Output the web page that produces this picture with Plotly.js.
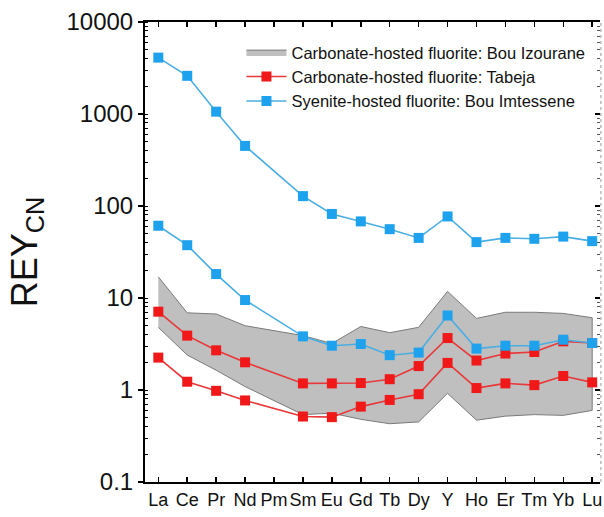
<!DOCTYPE html>
<html>
<head>
<meta charset="utf-8">
<script src="https://cdn.plot.ly/plotly-3.0.1.min.js"></script>
<style>html,body{margin:0;padding:0;background:#fff;}#chart{width:604px;height:517px;}</style>
</head>
<body>
<div id="chart"></div>
<script>
// Element order on the x axis (Pm has no data)
const elements = ['La','Ce','Pr','Nd','Pm','Sm','Eu','Gd','Tb','Dy','Y','Ho','Er','Tm','Yb','Lu'];
const measured = ['La','Ce','Pr','Nd','Sm','Eu','Gd','Tb','Dy','Y','Ho','Er','Tm','Yb','Lu'];

// Carbonate-hosted fluorite: Bou Izourane (range envelope)
const bandHigh = [17, 6.9, 6.7, 5.0, 3.9, 3.2, 4.9, 4.2, 4.8, 11.8, 6.0, 7.0, 7.0, 6.8, 6.1];
const bandLow  = [4.8, 2.4, 1.64, 1.09, 0.54, 0.56, 0.48, 0.43, 0.45, 0.92, 0.47, 0.52, 0.54, 0.53, 0.60];

// Carbonate-hosted fluorite: Tabeja
const tabejaHigh = [7.1, 3.9, 2.7, 2.0, 1.18, 1.18, 1.19, 1.31, 1.82, 3.67, 2.09, 2.49, 2.59, 3.38, 3.24];
const tabejaLow  = [2.25, 1.23, 0.98, 0.77, 0.515, 0.507, 0.66, 0.78, 0.90, 1.97, 1.05, 1.18, 1.13, 1.42, 1.21];

// Syenite-hosted fluorite: Bou Imtessene
const imtHigh = [4100, 2600, 1060, 450, 128, 82, 68, 56, 45, 77, 40.5, 45, 44, 46.5, 41.5];
const imtLow  = [61, 37.5, 18.2, 9.5, 3.83, 3.03, 3.16, 2.39, 2.55, 6.45, 2.82, 3.03, 3.03, 3.52, 3.24];

// Y tick labels
const yTickVals = [0.1, 1, 10, 100, 1000, 10000];
const yTickText = ['0.1', '1', '10', '100', '1000', '10000'];

const legendNames = [
  'Carbonate-hosted fluorite: Bou Izourane',
  'Carbonate-hosted fluorite: Tabeja',
  'Syenite-hosted fluorite: Bou Imtessene'
];

const red = '#f01818', redLine = '#e8383a';
const blue = '#1ea2ee', blueLine = '#4aaee2';

const band = {
  x: measured.concat(measured.slice().reverse()),
  y: bandHigh.concat(bandLow.slice().reverse()),
  type: 'scatter', mode: 'lines', fill: 'toself',
  fillcolor: '#bfbfbf', line: {color: '#7a7a7a', width: 1},
  name: legendNames[0], hoverinfo: 'skip'
};

function series(yv, color, lineColor, name, show) {
  return {
    x: measured, y: yv, type: 'scatter', mode: 'lines+markers',
    line: {color: lineColor, width: 1.6},
    marker: {symbol: 'square', size: 10, color: color},
    name: name, legendgroup: name, showlegend: show
  };
}

const traces = [
  band,
  series(tabejaHigh, red, redLine, legendNames[1], true),
  series(tabejaLow, red, redLine, legendNames[1], false),
  series(imtHigh, blue, blueLine, legendNames[2], true),
  series(imtLow, blue, blueLine, legendNames[2], false),
  {x: [], y: [], yaxis: 'y2', type: 'scatter', showlegend: false}
];

const font = 'Liberation Sans, Arial, sans-serif';

const layout = {
  width: 604, height: 517,
  margin: {l: 145, r: 4, t: 22, b: 35},
  paper_bgcolor: '#fff', plot_bgcolor: '#fff',
  font: {family: font, color: '#111'},
  showlegend: true,
  legend: {
    x: 0.212, y: 0.972, xanchor: 'left', yanchor: 'top',
    bgcolor: 'rgba(0,0,0,0)', borderwidth: 0,
    font: {family: font, size: 16.5, color: '#111'},
    itemwidth: 40, tracegroupgap: 0
  },
  xaxis: {
    type: 'category', categoryorder: 'array', categoryarray: elements,
    range: [-0.46, 15.27],
    showline: true, linecolor: '#000', linewidth: 2, mirror: 'ticks',
    ticks: 'inside', ticklen: 5, tickwidth: 1.5, tickcolor: '#000',
    tickangle: 0,
    showgrid: false, zeroline: false,
    tickfont: {family: font, size: 18, color: '#111'}
  },
  yaxis: {
    type: 'log', range: [-1, 4],
    tickvals: yTickVals, ticktext: yTickText,
    showline: true, linecolor: '#000', linewidth: 2,
    ticks: 'outside', ticklen: 5, tickwidth: 1.5, tickcolor: '#000',
    minor: {ticks: 'inside', ticklen: 3, tickcolor: '#000', tickwidth: 1, dtick: 'D1', showgrid: false},
    showgrid: false, zeroline: false,
    tickfont: {family: font, size: 24, color: '#111'},
    title: {text: 'REY<sub>CN</sub>', font: {family: font, size: 36, color: '#111'}, standoff: 18}
  },
  yaxis2: {
    type: 'log', range: [-1, 4], overlaying: 'y', side: 'right', anchor: 'x',
    showticklabels: false, showline: false,
    tickvals: yTickVals,
    ticks: 'inside', ticklen: 5, tickwidth: 1.5, tickcolor: '#000',
    minor: {ticks: 'inside', ticklen: 3, tickcolor: '#555', tickwidth: 1, dtick: 'D1', showgrid: false},
    showgrid: false, zeroline: false
  },
  shapes: [{
    type: 'line', xref: 'paper', yref: 'paper', x0: 1.002, x1: 1.002, y0: 0, y1: 1,
    line: {color: '#999', width: 1, dash: 'dot'}
  }]
};

Plotly.newPlot('chart', traces, layout, {displayModeBar: false, staticPlot: true});
</script>
</body>
</html>
